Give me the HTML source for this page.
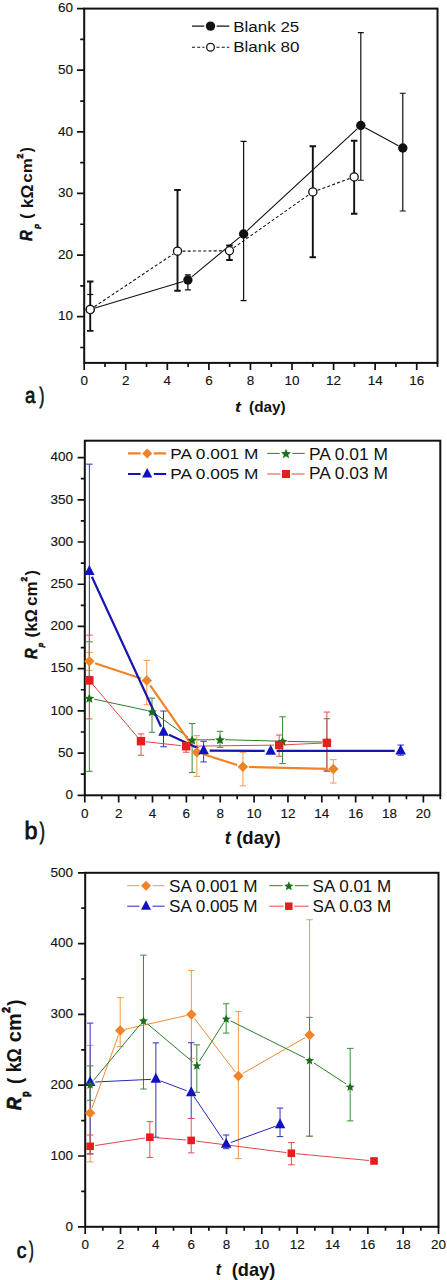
<!DOCTYPE html>
<html><head><meta charset="utf-8"><title>Rp vs time</title>
<style>
html,body{margin:0;padding:0;background:#fff;}
body{width:447px;height:1280px;overflow:hidden;}
svg{display:block;font-family:"Liberation Sans", sans-serif;fill:#111;}
text{fill:#111;}
</style></head>
<body>
<svg width="447" height="1280" viewBox="0 0 447 1280">
<rect width="447" height="1280" fill="#fff"/>
<rect x="84.2" y="8.6" width="353.3" height="354.3" fill="none" stroke="#111" stroke-width="2.0"/>
<path d="M84.2 362.9V370.1M125.76 362.9V370.1M167.33 362.9V370.1M208.89 362.9V370.1M250.46 362.9V370.1M292.02 362.9V370.1M333.59 362.9V370.1M375.15 362.9V370.1M416.72 362.9V370.1M104.98 362.9V366.9M146.55 362.9V366.9M188.11 362.9V366.9M229.68 362.9V366.9M271.24 362.9V366.9M312.81 362.9V366.9M354.37 362.9V366.9M395.94 362.9V366.9M437.5 362.9V366.9" stroke="#111" stroke-width="1.7" fill="none"/>
<text transform="translate(84.2 385.3) scale(1.08 1)" text-anchor="middle" font-size="12.5" stroke="#111" stroke-width="0.12">0</text>
<text transform="translate(125.76 385.3) scale(1.08 1)" text-anchor="middle" font-size="12.5" stroke="#111" stroke-width="0.12">2</text>
<text transform="translate(167.33 385.3) scale(1.08 1)" text-anchor="middle" font-size="12.5" stroke="#111" stroke-width="0.12">4</text>
<text transform="translate(208.89 385.3) scale(1.08 1)" text-anchor="middle" font-size="12.5" stroke="#111" stroke-width="0.12">6</text>
<text transform="translate(250.46 385.3) scale(1.08 1)" text-anchor="middle" font-size="12.5" stroke="#111" stroke-width="0.12">8</text>
<text transform="translate(292.02 385.3) scale(1.08 1)" text-anchor="middle" font-size="12.5" stroke="#111" stroke-width="0.12">10</text>
<text transform="translate(333.59 385.3) scale(1.08 1)" text-anchor="middle" font-size="12.5" stroke="#111" stroke-width="0.12">12</text>
<text transform="translate(375.15 385.3) scale(1.08 1)" text-anchor="middle" font-size="12.5" stroke="#111" stroke-width="0.12">14</text>
<text transform="translate(416.72 385.3) scale(1.08 1)" text-anchor="middle" font-size="12.5" stroke="#111" stroke-width="0.12">16</text>
<path d="M84.2 316.69H77M84.2 255.07H77M84.2 193.45H77M84.2 131.83H77M84.2 70.22H77M84.2 8.6H77M84.2 347.5H80.2M84.2 285.88H80.2M84.2 224.26H80.2M84.2 162.64H80.2M84.2 101.03H80.2M84.2 39.41H80.2" stroke="#111" stroke-width="1.7" fill="none"/>
<text transform="translate(73 320.49) scale(1.08 1)" text-anchor="end" font-size="12.5" stroke="#111" stroke-width="0.12">10</text>
<text transform="translate(73 258.87) scale(1.08 1)" text-anchor="end" font-size="12.5" stroke="#111" stroke-width="0.12">20</text>
<text transform="translate(73 197.25) scale(1.08 1)" text-anchor="end" font-size="12.5" stroke="#111" stroke-width="0.12">30</text>
<text transform="translate(73 135.63) scale(1.08 1)" text-anchor="end" font-size="12.5" stroke="#111" stroke-width="0.12">40</text>
<text transform="translate(73 74.02) scale(1.08 1)" text-anchor="end" font-size="12.5" stroke="#111" stroke-width="0.12">50</text>
<text transform="translate(73 12.4) scale(1.08 1)" text-anchor="end" font-size="12.5" stroke="#111" stroke-width="0.12">60</text>
<path d="M87.23 294.5H93.23M90.23 294.5V294.5" stroke="#111" stroke-width="1.2" fill="none"/>
<path d="M184.9 274.79H190.9M184.9 289.88H190.9M187.9 274.79V289.88" stroke="#111" stroke-width="1.2" fill="none"/>
<path d="M240.6 141.45H246.6M240.6 300.67H246.6M243.6 141.45V300.67" stroke="#111" stroke-width="1.2" fill="none"/>
<path d="M357.81 32.63H363.81M357.81 180.27H363.81M360.81 32.63V180.27" stroke="#111" stroke-width="1.2" fill="none"/>
<path d="M399.79 93.26H405.79M399.79 211.01H405.79M402.79 93.26V211.01" stroke="#111" stroke-width="1.2" fill="none"/>
<path d="M86.98 281.57H93.48M86.98 330.86H93.48M90.23 281.57V330.86" stroke="#111" stroke-width="1.9" fill="none"/>
<path d="M174.26 190.06H180.76M174.26 290.81H180.76M177.51 190.06V290.81" stroke="#111" stroke-width="1.9" fill="none"/>
<path d="M226.22 245.52H232.72M226.22 260H232.72M229.47 245.52V260" stroke="#111" stroke-width="1.9" fill="none"/>
<path d="M309.56 146.25H316.06M309.56 257.29H316.06M312.81 146.25V257.29" stroke="#111" stroke-width="1.9" fill="none"/>
<path d="M350.91 140.77H357.41M350.91 213.79H357.41M354.16 140.77V213.79" stroke="#111" stroke-width="1.9" fill="none"/>
<path d="M95.01 308.03L183.12 281.47M191.76 276.84L239.75 237.18M247.27 230.6L357.14 128.88M365.22 127.85L398.39 145.67" stroke="#111" stroke-width="1.1" fill="none"/>
<path d="M94.38 306.7L173.35 253.96M182.51 251.15L224.47 250.8M233.55 247.87L308.72 194.8M317.51 190.21L349.46 178.64" stroke="#111" stroke-width="1.1" fill="none" stroke-dasharray="3 2.2"/>
<circle cx="90.23" cy="309.48" r="4.7" fill="#111"/>
<circle cx="187.9" cy="280.02" r="4.7" fill="#111"/>
<circle cx="243.6" cy="234" r="4.7" fill="#111"/>
<circle cx="360.81" cy="125.49" r="4.7" fill="#111"/>
<circle cx="402.79" cy="148.04" r="4.7" fill="#111"/>
<circle cx="90.23" cy="309.48" r="4.05" fill="#fff" stroke="#111" stroke-width="1.3"/>
<circle cx="177.51" cy="251.19" r="4.05" fill="#fff" stroke="#111" stroke-width="1.3"/>
<circle cx="229.47" cy="250.76" r="4.05" fill="#fff" stroke="#111" stroke-width="1.3"/>
<circle cx="312.81" cy="191.91" r="4.05" fill="#fff" stroke="#111" stroke-width="1.3"/>
<circle cx="354.16" cy="176.94" r="4.05" fill="#fff" stroke="#111" stroke-width="1.3"/>
<path d="M192 26.1H204.3 M216.7 26.1H229.3" stroke="#111" stroke-width="1.1"/>
<circle cx="210.5" cy="26.1" r="4.7" fill="#111"/>
<g transform="translate(233.183 31.800) scale(1.2133 1.0634)"><text font-size="14">Blank 25</text></g>
<path d="M192 47.2H204.5 M216.5 47.2H229.3" stroke="#111" stroke-width="1.1" stroke-dasharray="3 2.2"/>
<circle cx="210.5" cy="47.2" r="3.85" fill="#fff" stroke="#111" stroke-width="1.3"/>
<g transform="translate(233.179 52.000) scale(1.2171 1.0537)"><text font-size="14">Blank 80</text></g>
<g transform="translate(25.017 403.031) scale(0.7769 0.9382)"><text font-size="24" stroke="#111" stroke-width="0.8">a</text></g>
<g transform="translate(39.445 402.843) scale(0.5935 0.9376)"><text font-size="24" stroke="#111" stroke-width="1.0">)</text></g>
<g transform="translate(235.047 411.800) scale(1.2706 1.0444)"><text font-size="14" font-weight="bold" font-style="italic">t</text></g>
<g transform="translate(249.077 411.846) scale(1.0969 0.9846)"><text font-size="14" font-weight="bold">(day)</text></g>
<g transform="translate(32.248 241.000) rotate(-90) scale(0.9277 1.0087)"><text font-size="16" font-weight="bold" font-style="italic" stroke="#111" stroke-width="0.5">R</text></g>
<g transform="translate(39.414 228.858) rotate(-90) scale(0.8833 0.8828)"><text font-size="9" font-style="italic" font-weight="bold" stroke="#111" stroke-width="0.6">p</text></g>
<g transform="translate(32.429 218.733) rotate(-90) scale(0.9778 1.0373)"><text font-size="16" font-weight="bold">(</text></g>
<g transform="translate(32.800 208.180) rotate(-90) scale(1.0800 1.0348)"><text font-size="16" font-weight="bold">k&#937;</text></g>
<g transform="translate(32.260 182.698) rotate(-90) scale(1.0635 0.9600)"><text font-size="16" font-weight="bold">cm</text></g>
<g transform="translate(23.067 158.400) rotate(-90) scale(0.9400 0.9333)"><text font-size="9" font-weight="bold" stroke="#111" stroke-width="0.6">2</text></g>
<g transform="translate(32.429 152.335) rotate(-90) scale(0.9412 1.0373)"><text font-size="16" font-weight="bold">)</text></g>
<rect x="84.8" y="440.7" width="355.5" height="354.6" fill="none" stroke="#111" stroke-width="2.0"/>
<path d="M84.8 795.3V802.5M118.66 795.3V802.5M152.51 795.3V802.5M186.37 795.3V802.5M220.23 795.3V802.5M254.09 795.3V802.5M287.94 795.3V802.5M321.8 795.3V802.5M355.66 795.3V802.5M389.51 795.3V802.5M423.37 795.3V802.5M101.73 795.3V799.3M135.59 795.3V799.3M169.44 795.3V799.3M203.3 795.3V799.3M237.16 795.3V799.3M271.01 795.3V799.3M304.87 795.3V799.3M338.73 795.3V799.3M372.59 795.3V799.3M406.44 795.3V799.3M440.3 795.3V799.3" stroke="#111" stroke-width="1.7" fill="none"/>
<text transform="translate(84.8 817.6) scale(1.08 1)" text-anchor="middle" font-size="12.5" stroke="#111" stroke-width="0.12">0</text>
<text transform="translate(118.66 817.6) scale(1.08 1)" text-anchor="middle" font-size="12.5" stroke="#111" stroke-width="0.12">2</text>
<text transform="translate(152.51 817.6) scale(1.08 1)" text-anchor="middle" font-size="12.5" stroke="#111" stroke-width="0.12">4</text>
<text transform="translate(186.37 817.6) scale(1.08 1)" text-anchor="middle" font-size="12.5" stroke="#111" stroke-width="0.12">6</text>
<text transform="translate(220.23 817.6) scale(1.08 1)" text-anchor="middle" font-size="12.5" stroke="#111" stroke-width="0.12">8</text>
<text transform="translate(254.09 817.6) scale(1.08 1)" text-anchor="middle" font-size="12.5" stroke="#111" stroke-width="0.12">10</text>
<text transform="translate(287.94 817.6) scale(1.08 1)" text-anchor="middle" font-size="12.5" stroke="#111" stroke-width="0.12">12</text>
<text transform="translate(321.8 817.6) scale(1.08 1)" text-anchor="middle" font-size="12.5" stroke="#111" stroke-width="0.12">14</text>
<text transform="translate(355.66 817.6) scale(1.08 1)" text-anchor="middle" font-size="12.5" stroke="#111" stroke-width="0.12">16</text>
<text transform="translate(389.51 817.6) scale(1.08 1)" text-anchor="middle" font-size="12.5" stroke="#111" stroke-width="0.12">18</text>
<text transform="translate(423.37 817.6) scale(1.08 1)" text-anchor="middle" font-size="12.5" stroke="#111" stroke-width="0.12">20</text>
<path d="M84.8 795.3H77.6M84.8 753.09H77.6M84.8 710.87H77.6M84.8 668.66H77.6M84.8 626.44H77.6M84.8 584.23H77.6M84.8 542.01H77.6M84.8 499.8H77.6M84.8 457.59H77.6M84.8 774.19H80.8M84.8 731.98H80.8M84.8 689.76H80.8M84.8 647.55H80.8M84.8 605.34H80.8M84.8 563.12H80.8M84.8 520.91H80.8M84.8 478.69H80.8" stroke="#111" stroke-width="1.7" fill="none"/>
<text transform="translate(73 799.1) scale(1.08 1)" text-anchor="end" font-size="12.5" stroke="#111" stroke-width="0.12">0</text>
<text transform="translate(73 756.89) scale(1.08 1)" text-anchor="end" font-size="12.5" stroke="#111" stroke-width="0.12">50</text>
<text transform="translate(73 714.67) scale(1.08 1)" text-anchor="end" font-size="12.5" stroke="#111" stroke-width="0.12">100</text>
<text transform="translate(73 672.46) scale(1.08 1)" text-anchor="end" font-size="12.5" stroke="#111" stroke-width="0.12">150</text>
<text transform="translate(73 630.24) scale(1.08 1)" text-anchor="end" font-size="12.5" stroke="#111" stroke-width="0.12">200</text>
<text transform="translate(73 588.03) scale(1.08 1)" text-anchor="end" font-size="12.5" stroke="#111" stroke-width="0.12">250</text>
<text transform="translate(73 545.81) scale(1.08 1)" text-anchor="end" font-size="12.5" stroke="#111" stroke-width="0.12">300</text>
<text transform="translate(73 503.6) scale(1.08 1)" text-anchor="end" font-size="12.5" stroke="#111" stroke-width="0.12">350</text>
<text transform="translate(73 461.39) scale(1.08 1)" text-anchor="end" font-size="12.5" stroke="#111" stroke-width="0.12">400</text>
<path d="M86.12 464.17H92.62M86.12 676.42H92.62M89.37 464.17V676.42" stroke="#3030c4" stroke-width="1.0" fill="none"/>
<path d="M160.27 711.04H166.77M160.27 746.75H166.77M163.52 711.04V746.75" stroke="#3030c4" stroke-width="1.0" fill="none"/>
<path d="M200.39 741.27H206.89M200.39 761.95H206.89M203.64 741.27V761.95" stroke="#3030c4" stroke-width="1.0" fill="none"/>
<path d="M397.44 745.06H403.94M397.44 755.2H403.94M400.69 745.06V755.2" stroke="#3030c4" stroke-width="1.0" fill="none"/>
<path d="M86.12 652.53H92.62M86.12 670.35H92.62M89.37 652.53V670.35" stroke="#f29a4a" stroke-width="1.0" fill="none"/>
<path d="M143.51 660.38H150.01M143.51 704.79H150.01M146.76 660.38V704.79" stroke="#f29a4a" stroke-width="1.0" fill="none"/>
<path d="M193.62 735.61H200.12M193.62 776.39H200.12M196.87 735.61V776.39" stroke="#f29a4a" stroke-width="1.0" fill="none"/>
<path d="M239.66 752.24H246.16M239.66 785.84H246.16M242.91 752.24V785.84" stroke="#f29a4a" stroke-width="1.0" fill="none"/>
<path d="M330.06 759.67H336.56M330.06 783.06H336.56M333.31 759.67V783.06" stroke="#f29a4a" stroke-width="1.0" fill="none"/>
<path d="M86.12 641.81H92.62M86.12 771.32H92.62M89.37 641.81V771.32" stroke="#3c8a3c" stroke-width="1.0" fill="none"/>
<path d="M148.76 698.12H155.26M148.76 732.32H155.26M152.01 698.12V732.32" stroke="#3c8a3c" stroke-width="1.0" fill="none"/>
<path d="M188.88 723.54H195.38M188.88 772.5H195.38M192.13 723.54V772.5" stroke="#3c8a3c" stroke-width="1.0" fill="none"/>
<path d="M216.81 731.3H223.31M216.81 747.34H223.31M220.06 731.3V747.34" stroke="#3c8a3c" stroke-width="1.0" fill="none"/>
<path d="M279.28 716.78H285.78M279.28 763.64H285.78M282.53 716.78V763.64" stroke="#3c8a3c" stroke-width="1.0" fill="none"/>
<path d="M323.63 718.72H330.13M323.63 771.24H330.13M326.88 718.72V771.24" stroke="#3c8a3c" stroke-width="1.0" fill="none"/>
<path d="M86.12 635.14H92.62M86.12 718.89H92.62M89.37 635.14V718.89" stroke="#e25050" stroke-width="1.0" fill="none"/>
<path d="M137.75 733.92H144.25M137.75 755.28H144.25M141 733.92V755.28" stroke="#e25050" stroke-width="1.0" fill="none"/>
<path d="M182.95 742.95H189.45M182.95 752.24H189.45M186.2 742.95V752.24" stroke="#e25050" stroke-width="1.0" fill="none"/>
<path d="M275.89 735.02H282.39M275.89 756.21H282.39M279.14 735.02V756.21" stroke="#e25050" stroke-width="1.0" fill="none"/>
<path d="M323.63 712.05H330.13M323.63 770.82H330.13M326.88 712.05V770.82" stroke="#e25050" stroke-width="1.0" fill="none"/>
<path d="M94.26 699.17L147.12 710.5M156.08 714.44L188.05 737.11M197.13 739.92L215.06 739.65M225.06 739.71L277.53 741.13M287.52 741.36L321.88 742.01" stroke="#2a7f2a" stroke-width="1.0" fill="none"/>
<path d="M92.61 684.29L137.76 737.37M145.97 741.74L181.23 745.69M191.2 746.18L274.14 745.13M284.13 744.84L321.88 743.1" stroke="#e04646" stroke-width="1.0" fill="none"/>
<path d="M95.06 663.21L141.07 678.58M150.19 685.4L193.43 747.32M202.59 754.06L237.19 765.03M248.91 766.99L327.31 768.82" stroke="#f08228" stroke-width="2.2" fill="none"/>
<path d="M91.88 576.68L161.01 726.7M168.97 734.66L198.19 748.13M209.64 750.67L264.68 750.94M276.68 750.97L394.69 750.89" stroke="#1616b0" stroke-width="2.2" fill="none"/>
<path d="M89.37 693.4L90.75 696.72L94.34 697.01L91.61 699.35L92.44 702.85L89.37 700.97L86.3 702.85L87.13 699.35L84.4 697.01L87.99 696.72Z" fill="#1a6e1a"/>
<path d="M152.01 706.82L153.39 710.14L156.98 710.43L154.24 712.77L155.08 716.27L152.01 714.4L148.94 716.27L149.77 712.77L147.04 710.43L150.62 710.14Z" fill="#1a6e1a"/>
<path d="M192.13 735.27L193.51 738.6L197.1 738.88L194.36 741.23L195.2 744.73L192.13 742.85L189.06 744.73L189.89 741.23L187.16 738.88L190.75 738.6Z" fill="#1a6e1a"/>
<path d="M220.06 734.85L221.44 738.17L225.03 738.46L222.3 740.8L223.13 744.3L220.06 742.43L216.99 744.3L217.82 740.8L215.09 738.46L218.68 738.17Z" fill="#1a6e1a"/>
<path d="M282.53 736.54L283.91 739.86L287.49 740.15L284.76 742.49L285.6 745.99L282.53 744.12L279.45 745.99L280.29 742.49L277.56 740.15L281.14 739.86Z" fill="#1a6e1a"/>
<path d="M326.88 737.38L328.26 740.71L331.85 741L329.11 743.34L329.95 746.84L326.88 744.96L323.81 746.84L324.64 743.34L321.91 741L325.5 740.71Z" fill="#1a6e1a"/>
<rect x="85.17" y="676.28" width="8.4" height="8.4" fill="#e61e1e"/>
<rect x="136.8" y="736.98" width="8.4" height="8.4" fill="#e61e1e"/>
<rect x="182" y="742.05" width="8.4" height="8.4" fill="#e61e1e"/>
<rect x="274.94" y="740.86" width="8.4" height="8.4" fill="#e61e1e"/>
<rect x="322.68" y="738.67" width="8.4" height="8.4" fill="#e61e1e"/>
<path d="M89.37 656.06L94.62 661.31L89.37 666.56L84.12 661.31Z" fill="#f08228"/>
<path d="M146.76 675.23L152.01 680.48L146.76 685.73L141.51 680.48Z" fill="#f08228"/>
<path d="M196.87 746.99L202.12 752.24L196.87 757.49L191.62 752.24Z" fill="#f08228"/>
<path d="M242.91 761.6L248.16 766.85L242.91 772.1L237.66 766.85Z" fill="#f08228"/>
<path d="M333.31 763.71L338.56 768.96L333.31 774.21L328.06 768.96Z" fill="#f08228"/>
<path d="M89.37 564.94L94.62 574.92L84.12 574.92Z" fill="#1212c0"/>
<path d="M163.52 725.86L168.77 735.84L158.27 735.84Z" fill="#1212c0"/>
<path d="M203.64 744.35L208.89 754.33L198.39 754.33Z" fill="#1212c0"/>
<path d="M270.68 744.69L275.93 754.67L265.43 754.67Z" fill="#1212c0"/>
<path d="M400.69 744.61L405.94 754.58L395.44 754.58Z" fill="#1212c0"/>
<path d="M128 453.4H140.7 M153.7 453.4H166.2" stroke="#f08228" stroke-width="2.2"/>
<path d="M147.2 448.4L152.2 453.4L147.2 458.4L142.2 453.4Z" fill="#f08228"/>
<g transform="translate(170.257 459.200) scale(1.2348 1.0974)"><text font-size="14">PA 0.001 M</text></g>
<path d="M128 474H140.6 M153.8 474H166.2" stroke="#1212c0" stroke-width="2.2"/>
<path d="M147.2 467.9L152.3 477.59L142.1 477.59Z" fill="#1212c0"/>
<g transform="translate(170.257 478.700) scale(1.2348 1.0974)"><text font-size="14">PA 0.005 M</text></g>
<path d="M267.2 453.4H279.75 M292.25 453.4H304.7" stroke="#2a7f2a" stroke-width="1.0"/>
<path d="M286 448.67L287.38 452L290.97 452.29L288.24 454.63L289.07 458.13L286 456.25L282.93 458.13L283.76 454.63L281.03 452.29L284.62 452Z" fill="#1a6e1a"/>
<g transform="translate(309.047 459.500) scale(1.2424 1.1282)"><text font-size="14">PA 0.01 M</text></g>
<path d="M267.2 474H280.5 M291.5 474H304.7" stroke="#e04646" stroke-width="1.0"/>
<rect x="282" y="470" width="8" height="8" fill="#e61e1e"/>
<g transform="translate(309.047 479.200) scale(1.2424 1.1179)"><text font-size="14">PA 0.03 M</text></g>
<g transform="translate(24.483 839.210) scale(0.9739 0.9808)"><text font-size="24" stroke="#111" stroke-width="0.8">b</text></g>
<g transform="translate(39.674 838.501) scale(0.6323 0.9634)"><text font-size="24" stroke="#111" stroke-width="1.0">)</text></g>
<g transform="translate(224.743 843.900) scale(1.0087 1.0553)"><text font-size="18" font-weight="bold" font-style="italic">t</text></g>
<g transform="translate(236.166 844.382) scale(1.0341 1.0448)"><text font-size="18" font-weight="bold">(day)</text></g>
<g transform="translate(36.652 658.900) rotate(-90) scale(0.9191 0.9913)"><text font-size="16" font-weight="bold" font-style="italic" stroke="#111" stroke-width="0.5">R</text></g>
<g transform="translate(43.383 647.292) rotate(-90) scale(0.8167 0.8966)"><text font-size="9" font-style="italic" font-weight="bold" stroke="#111" stroke-width="0.6">p</text></g>
<g transform="translate(36.829 637.600) rotate(-90) scale(1.0667 1.0373)"><text font-size="16" font-weight="bold">(</text></g>
<g transform="translate(37.100 631.640) rotate(-90) scale(1.0400 1.0087)"><text font-size="16" font-weight="bold">k&#937;</text></g>
<g transform="translate(36.843 606.101) rotate(-90) scale(1.0682 1.0286)"><text font-size="16" font-weight="bold">cm</text></g>
<g transform="translate(27.074 581.500) rotate(-90) scale(0.9200 0.9037)"><text font-size="9" font-weight="bold" stroke="#111" stroke-width="0.6">2</text></g>
<g transform="translate(36.829 575.553) rotate(-90) scale(1.0118 1.0373)"><text font-size="16" font-weight="bold">)</text></g>
<rect x="85.2" y="872.8" width="353.3" height="354" fill="none" stroke="#111" stroke-width="2.0"/>
<path d="M85.2 1226.8V1234M120.53 1226.8V1234M155.86 1226.8V1234M191.19 1226.8V1234M226.52 1226.8V1234M261.85 1226.8V1234M297.18 1226.8V1234M332.51 1226.8V1234M367.84 1226.8V1234M403.17 1226.8V1234M438.5 1226.8V1234M102.87 1226.8V1230.8M138.19 1226.8V1230.8M173.53 1226.8V1230.8M208.86 1226.8V1230.8M244.19 1226.8V1230.8M279.51 1226.8V1230.8M314.85 1226.8V1230.8M350.18 1226.8V1230.8M385.5 1226.8V1230.8M420.83 1226.8V1230.8" stroke="#111" stroke-width="1.7" fill="none"/>
<text transform="translate(85.2 1249.2) scale(1.08 1)" text-anchor="middle" font-size="12.5" stroke="#111" stroke-width="0.12">0</text>
<text transform="translate(120.53 1249.2) scale(1.08 1)" text-anchor="middle" font-size="12.5" stroke="#111" stroke-width="0.12">2</text>
<text transform="translate(155.86 1249.2) scale(1.08 1)" text-anchor="middle" font-size="12.5" stroke="#111" stroke-width="0.12">4</text>
<text transform="translate(191.19 1249.2) scale(1.08 1)" text-anchor="middle" font-size="12.5" stroke="#111" stroke-width="0.12">6</text>
<text transform="translate(226.52 1249.2) scale(1.08 1)" text-anchor="middle" font-size="12.5" stroke="#111" stroke-width="0.12">8</text>
<text transform="translate(261.85 1249.2) scale(1.08 1)" text-anchor="middle" font-size="12.5" stroke="#111" stroke-width="0.12">10</text>
<text transform="translate(297.18 1249.2) scale(1.08 1)" text-anchor="middle" font-size="12.5" stroke="#111" stroke-width="0.12">12</text>
<text transform="translate(332.51 1249.2) scale(1.08 1)" text-anchor="middle" font-size="12.5" stroke="#111" stroke-width="0.12">14</text>
<text transform="translate(367.84 1249.2) scale(1.08 1)" text-anchor="middle" font-size="12.5" stroke="#111" stroke-width="0.12">16</text>
<text transform="translate(403.17 1249.2) scale(1.08 1)" text-anchor="middle" font-size="12.5" stroke="#111" stroke-width="0.12">18</text>
<text transform="translate(438.5 1249.2) scale(1.08 1)" text-anchor="middle" font-size="12.5" stroke="#111" stroke-width="0.12">20</text>
<path d="M85.2 1226.8H78M85.2 1156H78M85.2 1085.2H78M85.2 1014.4H78M85.2 943.6H78M85.2 872.8H78M85.2 1191.4H81.2M85.2 1120.6H81.2M85.2 1049.8H81.2M85.2 979H81.2M85.2 908.2H81.2" stroke="#111" stroke-width="1.7" fill="none"/>
<text transform="translate(73 1230.6) scale(1.08 1)" text-anchor="end" font-size="12.5" stroke="#111" stroke-width="0.12">0</text>
<text transform="translate(73 1159.8) scale(1.08 1)" text-anchor="end" font-size="12.5" stroke="#111" stroke-width="0.12">100</text>
<text transform="translate(73 1089) scale(1.08 1)" text-anchor="end" font-size="12.5" stroke="#111" stroke-width="0.12">200</text>
<text transform="translate(73 1018.2) scale(1.08 1)" text-anchor="end" font-size="12.5" stroke="#111" stroke-width="0.12">300</text>
<text transform="translate(73 947.4) scale(1.08 1)" text-anchor="end" font-size="12.5" stroke="#111" stroke-width="0.12">400</text>
<text transform="translate(73 876.6) scale(1.08 1)" text-anchor="end" font-size="12.5" stroke="#111" stroke-width="0.12">500</text>
<path d="M86.9 1045.41H93.4M86.9 1161.88H93.4M90.15 1045.41V1161.88" stroke="#f29a4a" stroke-width="1.0" fill="none"/>
<path d="M116.93 997.76H123.43M116.93 1046.54H123.43M120.18 997.76V1046.54" stroke="#f29a4a" stroke-width="1.0" fill="none"/>
<path d="M188.12 970.5H194.62M188.12 1058.3H194.62M191.37 970.5V1058.3" stroke="#f29a4a" stroke-width="1.0" fill="none"/>
<path d="M235.11 1011.57H241.61M235.11 1158.55H241.61M238.36 1011.57V1158.55" stroke="#f29a4a" stroke-width="1.0" fill="none"/>
<path d="M306.3 919.74H312.8M306.3 1136.18H312.8M309.55 919.74V1136.18" stroke="#f29a4a" stroke-width="1.0" fill="none"/>
<path d="M86.9 1023.11H93.4M86.9 1153.88H93.4M90.15 1023.11V1153.88" stroke="#3030c4" stroke-width="1.0" fill="none"/>
<path d="M152.61 1042.86H159.11M152.61 1137.24H159.11M155.86 1042.86V1137.24" stroke="#3030c4" stroke-width="1.0" fill="none"/>
<path d="M187.94 1042.72H194.44M187.94 1118.48H194.44M191.19 1042.72V1118.48" stroke="#3030c4" stroke-width="1.0" fill="none"/>
<path d="M222.92 1134.97H229.42M222.92 1148.71H229.42M226.17 1134.97V1148.71" stroke="#3030c4" stroke-width="1.0" fill="none"/>
<path d="M276.79 1108.07H283.29M276.79 1136.6H283.29M280.04 1108.07V1136.6" stroke="#3030c4" stroke-width="1.0" fill="none"/>
<path d="M86.9 1065.87H93.4M86.9 1100.28H93.4M90.15 1065.87V1100.28" stroke="#3c8a3c" stroke-width="1.0" fill="none"/>
<path d="M140.24 955.14H146.74M140.24 1089.02H146.74M143.49 955.14V1089.02" stroke="#3c8a3c" stroke-width="1.0" fill="none"/>
<path d="M193.59 1044.84H200.09M193.59 1092.28H200.09M196.84 1044.84V1092.28" stroke="#3c8a3c" stroke-width="1.0" fill="none"/>
<path d="M222.92 1003.78H229.42M222.92 1033.09H229.42M226.17 1003.78V1033.09" stroke="#3c8a3c" stroke-width="1.0" fill="none"/>
<path d="M306.3 1017.37H312.8M306.3 1136.18H312.8M309.55 1017.37V1136.18" stroke="#3c8a3c" stroke-width="1.0" fill="none"/>
<path d="M346.93 1048.38H353.43M346.93 1120.88H353.43M350.18 1048.38V1120.88" stroke="#3c8a3c" stroke-width="1.0" fill="none"/>
<path d="M86.9 1134.97H93.4M86.9 1154.02H93.4M90.15 1134.97V1154.02" stroke="#e25050" stroke-width="1.0" fill="none"/>
<path d="M146.6 1121.66H153.1M146.6 1157.42H153.1M149.85 1121.66V1157.42" stroke="#e25050" stroke-width="1.0" fill="none"/>
<path d="M187.94 1118.48H194.44M187.94 1152.88H194.44M191.19 1118.48V1152.88" stroke="#e25050" stroke-width="1.0" fill="none"/>
<path d="M288.1 1142.55H294.6M288.1 1164.78H294.6M291.35 1142.55V1164.78" stroke="#e25050" stroke-width="1.0" fill="none"/>
<path d="M370.77 1158.48H377.27M370.77 1163.43H377.27M374.02 1158.48V1163.43" stroke="#e25050" stroke-width="1.0" fill="none"/>
<path d="M95.09 1145.55L144.91 1137.99M154.84 1137.62L186.2 1140.04M196.15 1141.06L286.39 1152.6M296.33 1153.7L369.04 1160.49" stroke="#e04646" stroke-width="1.0" fill="none"/>
<path d="M95.14 1081.99L150.87 1079.35M160.54 1080.88L186.51 1090.72M193.99 1096.63L223.36 1140.04M230.87 1142.47L275.34 1126.34" stroke="#2626bc" stroke-width="1.0" fill="none"/>
<path d="M91.85 1108.4L118.47 1035.17M125.05 1029.37L186.49 1015.5M194.4 1018.38L235.32 1072.02M242.69 1073.5L305.21 1037.57" stroke="#f08a32" stroke-width="1.0" fill="none"/>
<path d="M93.35 1080.58L140.29 1024.4M147.32 1023.78L193.01 1062.16M199.5 1061.14L223.51 1022.88M230.64 1020.88L305.07 1057.98M313.74 1062.93L345.98 1083.89" stroke="#2a7f2a" stroke-width="1.0" fill="none"/>
<rect x="86.35" y="1142.5" width="7.6" height="7.6" fill="#e61e1e"/>
<rect x="146.05" y="1133.44" width="7.6" height="7.6" fill="#e61e1e"/>
<rect x="187.39" y="1136.62" width="7.6" height="7.6" fill="#e61e1e"/>
<rect x="287.55" y="1149.44" width="7.6" height="7.6" fill="#e61e1e"/>
<rect x="370.22" y="1157.16" width="7.6" height="7.6" fill="#e61e1e"/>
<path d="M90.15 1075.94L95.4 1085.92L84.9 1085.92Z" fill="#1212c0"/>
<path d="M155.86 1072.83L161.11 1082.8L150.61 1082.8Z" fill="#1212c0"/>
<path d="M191.19 1086.21L196.44 1096.18L185.94 1096.18Z" fill="#1212c0"/>
<path d="M226.17 1137.89L231.42 1147.87L220.92 1147.87Z" fill="#1212c0"/>
<path d="M280.04 1118.35L285.29 1128.33L274.79 1128.33Z" fill="#1212c0"/>
<path d="M90.15 1107.85L95.4 1113.1L90.15 1118.35L84.9 1113.1Z" fill="#f08228"/>
<path d="M120.18 1025.22L125.43 1030.47L120.18 1035.72L114.93 1030.47Z" fill="#f08228"/>
<path d="M191.37 1009.15L196.62 1014.4L191.37 1019.65L186.12 1014.4Z" fill="#f08228"/>
<path d="M238.36 1070.75L243.61 1076L238.36 1081.25L233.11 1076Z" fill="#f08228"/>
<path d="M309.55 1029.82L314.8 1035.07L309.55 1040.32L304.3 1035.07Z" fill="#f08228"/>
<path d="M90.15 1080.19L91.4 1083.2L94.64 1083.46L92.17 1085.58L92.93 1088.75L90.15 1087.05L87.37 1088.75L88.12 1085.58L85.65 1083.46L88.9 1083.2Z" fill="#1a6e1a"/>
<path d="M143.49 1016.33L144.75 1019.34L147.99 1019.6L145.52 1021.72L146.27 1024.89L143.49 1023.19L140.71 1024.89L141.47 1021.72L139 1019.6L142.24 1019.34Z" fill="#1a6e1a"/>
<path d="M196.84 1061.15L198.09 1064.15L201.34 1064.41L198.87 1066.53L199.62 1069.7L196.84 1068L194.06 1069.7L194.82 1066.53L192.34 1064.41L195.59 1064.15Z" fill="#1a6e1a"/>
<path d="M226.17 1014.42L227.42 1017.43L230.67 1017.69L228.19 1019.81L228.95 1022.97L226.17 1021.28L223.39 1022.97L224.14 1019.81L221.67 1017.69L224.92 1017.43Z" fill="#1a6e1a"/>
<path d="M309.55 1055.98L310.8 1058.99L314.04 1059.25L311.57 1061.37L312.33 1064.53L309.55 1062.84L306.77 1064.53L307.52 1061.37L305.05 1059.25L308.29 1058.99Z" fill="#1a6e1a"/>
<path d="M350.18 1082.39L351.43 1085.39L354.67 1085.65L352.2 1087.77L352.96 1090.94L350.18 1089.24L347.39 1090.94L348.15 1087.77L345.68 1085.65L348.92 1085.39Z" fill="#1a6e1a"/>
<path d="M127.2 885.7H139.5 M152.5 885.7H164.7" stroke="#f29a4a" stroke-width="1.0"/>
<path d="M146 880.7L151 885.7L146 890.7L141 885.7Z" fill="#f08228"/>
<g transform="translate(168.981 891.800) scale(1.2255 1.1487)"><text font-size="14">SA 0.001 M</text></g>
<path d="M127.2 906.2H139.5 M152.5 906.2H164.7" stroke="#2626bc" stroke-width="1.0"/>
<path d="M146 900.22L151 909.72L141 909.72Z" fill="#1212c0"/>
<g transform="translate(168.981 911.900) scale(1.2255 1.1487)"><text font-size="14">SA 0.005 M</text></g>
<path d="M269.4 885.7H282.8 M294.8 885.7H308.6" stroke="#2a7f2a" stroke-width="1.0"/>
<path d="M288.8 881.25L290.11 884.4L293.51 884.67L290.92 886.89L291.71 890.2L288.8 888.43L285.89 890.2L286.68 886.89L284.09 884.67L287.49 884.4Z" fill="#1a6e1a"/>
<g transform="translate(312.586 891.800) scale(1.2191 1.1487)"><text font-size="14">SA 0.01 M</text></g>
<path d="M269.4 906.2H283.55 M294.05 906.2H308.6" stroke="#e04646" stroke-width="1.0"/>
<rect x="285.05" y="902.45" width="7.5" height="7.5" fill="#e61e1e"/>
<g transform="translate(312.586 911.900) scale(1.2191 1.1487)"><text font-size="14">SA 0.03 M</text></g>
<g transform="translate(16.793 1257.542) scale(0.8091 0.9164)"><text font-size="24" stroke="#111" stroke-width="0.8">c</text></g>
<g transform="translate(29.216 1256.772) scale(0.5548 0.9505)"><text font-size="24" stroke="#111" stroke-width="1.0">)</text></g>
<g transform="translate(215.648 1275.400) scale(0.8696 0.9617)"><text font-size="18" font-weight="bold" font-style="italic">t</text></g>
<g transform="translate(231.688 1276.149) scale(1.0122 1.0269)"><text font-size="18" font-weight="bold">(day)</text></g>
<g transform="translate(20.993 1110.200) rotate(-90) scale(1.1234 1.2261)"><text font-size="16" font-weight="bold" font-style="italic" stroke="#111" stroke-width="0.5">R</text></g>
<g transform="translate(29.038 1096.748) rotate(-90) scale(0.9905 1.2276)"><text font-size="9" font-weight="bold" stroke="#111" stroke-width="0.6">p</text></g>
<g transform="translate(21.614 1084.067) rotate(-90) scale(1.1556 1.2881)"><text font-size="16" font-weight="bold">(</text></g>
<g transform="translate(21.300 1072.310) rotate(-90) scale(1.1100 1.2261)"><text font-size="16" font-weight="bold">k&#937;</text></g>
<g transform="translate(20.797 1042.239) rotate(-90) scale(1.2518 1.2114)"><text font-size="16" font-weight="bold">cm</text></g>
<g transform="translate(9.815 1012.700) rotate(-90) scale(1.1200 1.1407)"><text font-size="9" font-weight="bold" stroke="#111" stroke-width="0.6">2</text></g>
<g transform="translate(21.614 1005.788) rotate(-90) scale(1.1529 1.2881)"><text font-size="16" font-weight="bold">)</text></g>
</svg>
</body></html>
